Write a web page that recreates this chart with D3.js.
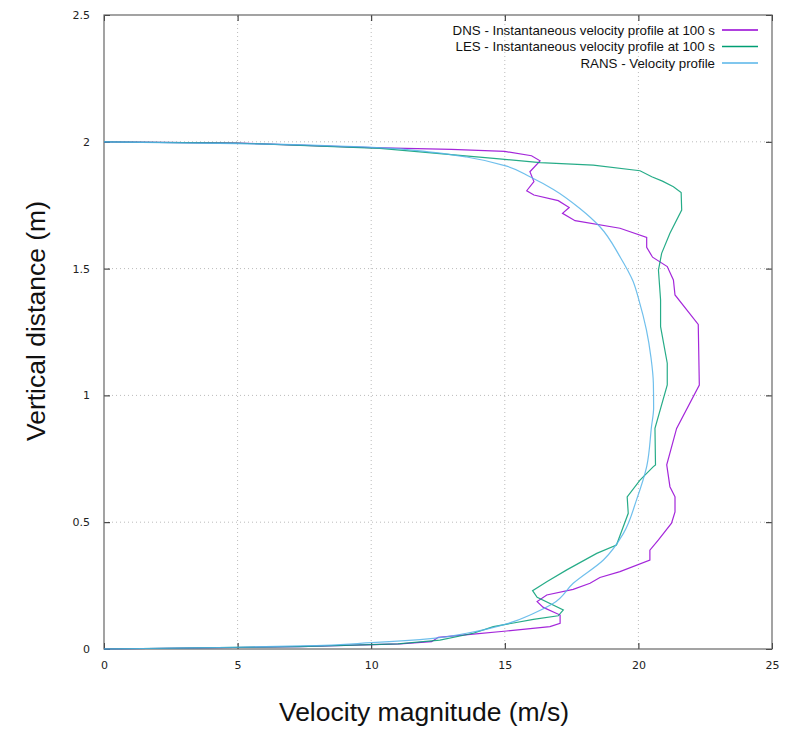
<!DOCTYPE html>
<html>
<head>
<meta charset="utf-8">
<script src="https://cdn.jsdelivr.net/npm/d3@7"></script>
<style>
  body { margin: 0; background: #fff; }
  .tick text { font-family: "DejaVu Sans", sans-serif; font-size: 11px; fill: #222; }
  .title { font-family: "Liberation Sans", Arial, sans-serif; font-size: 26.5px; fill: #111; }
  .legend text { font-family: "Liberation Sans", Arial, sans-serif; font-size: 13.3px; fill: #111; }
</style>
</head>
<body>
<svg width="785" height="729"></svg>
<script>
// Series: [velocity (m/s), vertical distance (m)]
var dnsData = [[0,2.0],[5,1.995],[10,1.977],[13,1.97],[15,1.962],[16,1.945],[16.32,1.925],[15.94,1.882],
  [16.09,1.843],[15.82,1.807],[16.09,1.79],[17.0,1.768],[17.41,1.741],[17.16,1.718],[17.63,1.689],
  [19.31,1.659],[20.31,1.623],[20.31,1.584],[20.53,1.545],[21.08,1.508],[21.31,1.455],[21.37,1.396],
  [22.24,1.28],[22.28,1.041],[21.43,0.870],[21.06,0.726],[21.18,0.640],[21.37,0.60],[21.37,0.541],
  [21.24,0.496],[20.75,0.430],[20.43,0.39],[20.43,0.351],[19.31,0.305],[18.56,0.282],[18.19,0.259],
  [17.56,0.235],[16.57,0.213],[16.21,0.187],[16.44,0.164],[17.07,0.134],[17.07,0.101],[16.69,0.088],
  [15.07,0.071],[13.82,0.059],[12.51,0.046],[12.26,0.029],[11.08,0.02],[7.34,0.009],[0,0]];

var lesData = [[0,2.0],[5,1.995],[10.33,1.974],[14.69,1.934],[16.32,1.918],[18.31,1.908],[20.06,1.886],
  [20.5,1.862],[20.9,1.845],[21.31,1.823],[21.6,1.8],[21.62,1.731],[21.18,1.639],[20.87,1.56],[20.75,1.494],
  [20.83,1.376],[20.83,1.271],[21.08,1.127],[21.08,1.041],[20.62,0.87],[20.64,0.726],[20.56,0.719],
  [20.06,0.666],[19.58,0.6],[19.62,0.535],[19.18,0.41],[18.44,0.377],[17.32,0.312],[16.57,0.265],
  [16.04,0.23],[16.21,0.204],[17.19,0.154],[17.0,0.131],[16.07,0.117],[14.57,0.088],[13.82,0.062],
  [12.57,0.035],[11,0.02],[7.3,0.009],[0,0]];

var ransData = [[0,2.0],[5,1.993],[10.02,1.978],[12.32,1.958],[13.57,1.94],[15.07,1.904],[15.94,1.862],
  [16.82,1.812],[17.81,1.737],[18.56,1.665],[19.31,1.547],[19.8,1.45],[20.02,1.376],[20.3,1.258],
  [20.47,1.15],[20.56,1.048],[20.57,0.95],[20.49,0.877],[20.31,0.719],[19.93,0.588],[19.44,0.456],
  [18.69,0.351],[17.56,0.259],[16.82,0.18],[16.07,0.14],[15.07,0.099],[13.57,0.062],[12.32,0.042],
  [10.02,0.025],[7.34,0.012],[5,0.007],[0,0]];

var seriesNames = ["DNS - Instantaneous velocity profile at 100 s",
                   "LES - Instantaneous velocity profile at 100 s",
                   "RANS - Velocity profile"];
var seriesColors = ["#9400d3", "#009e73", "#56b4e9"];
var xTicks = [0, 5, 10, 15, 20, 25];
var yTicks = [0, 0.5, 1, 1.5, 2, 2.5];

var svg = d3.select("svg");
var margin = {top: 15, left: 104, bottom: 80, right: 13};
var width = 785 - margin.left - margin.right;
var height = 729 - margin.top - margin.bottom;

var xScale = d3.scaleLinear().domain([0, 25]).range([margin.left, margin.left + width]);
var yScale = d3.scaleLinear().domain([0, 2.5]).range([margin.top + height, margin.top]);

// Dotted grid
var grid = svg.append("g").attr("class", "grid");
grid.selectAll(".gx").data(xTicks.slice(1, -1)).enter().append("line")
    .attr("x1", d => xScale(d)).attr("x2", d => xScale(d))
    .attr("y1", yScale(0)).attr("y2", yScale(2.5));
grid.selectAll(".gy").data(yTicks.slice(1, -1)).enter().append("line")
    .attr("y1", d => yScale(d)).attr("y2", d => yScale(d))
    .attr("x1", xScale(0)).attr("x2", xScale(25));
grid.selectAll("line")
    .attr("stroke", "#bbb").attr("stroke-width", 1).attr("stroke-dasharray", "1,3");

// Axes (gnuplot style: inward ticks, mirrored)
svg.append("g").attr("class", "x axis")
    .attr("transform", "translate(0," + yScale(0) + ")")
    .call(d3.axisBottom(xScale).tickValues(xTicks).tickSize(-6).tickPadding(12).tickFormat(d3.format("d")));
svg.append("g")
    .attr("transform", "translate(0," + yScale(2.5) + ")")
    .call(d3.axisTop(xScale).tickValues(xTicks).tickSize(-6).tickFormat(""));
svg.append("g").attr("class", "y axis")
    .attr("transform", "translate(" + xScale(0) + ",0)")
    .call(d3.axisLeft(yScale).tickValues(yTicks).tickSize(-6).tickPadding(14).tickFormat(d => d3.format("")(d)));
svg.append("g")
    .attr("transform", "translate(" + xScale(25) + ",0)")
    .call(d3.axisRight(yScale).tickValues(yTicks).tickSize(-6).tickFormat(""));

svg.selectAll(".domain").remove();
svg.selectAll(".tick line").attr("stroke", "#222");

// Border
svg.append("rect")
    .attr("x", xScale(0)).attr("y", yScale(2.5))
    .attr("width", xScale(25) - xScale(0)).attr("height", yScale(0) - yScale(2.5))
    .attr("fill", "none").attr("stroke", "#666").attr("stroke-width", 1.2);

// Lines
var line = d3.line().x(d => xScale(d[0])).y(d => yScale(d[1]));
var smoothLine = d3.line().x(d => xScale(d[0])).y(d => yScale(d[1])).curve(d3.curveMonotoneY);

var allData = [dnsData, lesData, ransData];
allData.forEach(function(data, i) {
    svg.append("path")
        .datum(data)
        .attr("d", i == 2 ? smoothLine : line)
        .attr("fill", "none")
        .attr("stroke", seriesColors[i])
        .attr("stroke-width", 1.2)
        .attr("stroke-opacity", 0.85);
});

// Legend
var legend = svg.append("g").attr("class", "legend");
seriesNames.forEach(function(name, i) {
    var ly = 30 + i * 16.5;
    legend.append("text")
        .attr("x", 715).attr("y", ly).attr("dy", "0.35em")
        .attr("text-anchor", "end").text(name);
    legend.append("line")
        .attr("x1", 722).attr("x2", 758).attr("y1", ly).attr("y2", ly)
        .attr("stroke", seriesColors[i]).attr("stroke-width", 1.3);
});

// Axis titles
svg.append("text").attr("class", "title")
    .attr("x", 424).attr("y", 721)
    .attr("text-anchor", "middle").text("Velocity magnitude (m/s)");
svg.append("text").attr("class", "title")
    .attr("transform", "translate(45,321) rotate(-90)")
    .attr("text-anchor", "middle").text("Vertical distance (m)");
</script>
</body>
</html>
